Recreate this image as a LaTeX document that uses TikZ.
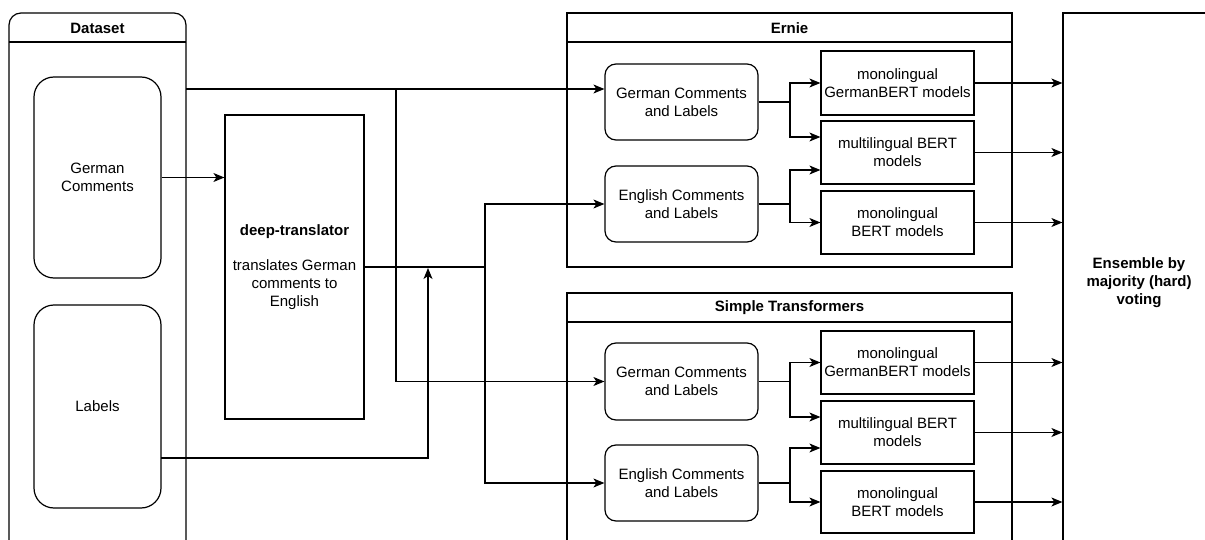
\documentclass[tikz,border=0pt]{standalone}
\usepackage{fontspec}
\setmainfont{Liberation Sans}
\usetikzlibrary{arrows.meta,calc}
\newcommand\fs{\fontsize{15}{18}\selectfont}
\tikzset{
  every node/.style={font=\fs, inner sep=0pt, align=center},
  ln/.style={line width=1.2pt, draw=black},
  bigrbox/.style={ln, rounded corners=20pt},
  rbox/.style={ln, rounded corners=11pt},
  sqbox/.style={ln},
  ttl/.style={font=\fs\bfseries},
  arr/.style={line width=1.2pt, -{Stealth[length=11pt,width=9pt,inset=3pt]}},
  con/.style={line width=1.2pt},
}
\begin{document}
\begin{tikzpicture}[x=1pt,y=-1pt]
\clip (0,0) rectangle (1205,540);
\fill[white] (0,0) rectangle (1205,540);

% Dataset container
\node[ln, rounded corners=12pt, minimum width=177pt, minimum height=539pt] (dataset) at (97.5,282.5) {};
\node[ttl] (dstitle) at (97.5,28) {Dataset};
\draw[con] (9,42) -- (186,42);
\node[bigrbox, minimum width=127pt, minimum height=201pt] (gc) at (97.5,177.5) {German\\Comments};
\node[bigrbox, minimum width=127pt, minimum height=203pt] (lb) at (97.5,406.5) {Labels};

% deep-translator
\node[sqbox, minimum width=139pt, minimum height=304pt] (dt) at (294.5,267) {\textbf{deep-translator}\\[17pt]translates German\\comments to\\English};

% Ernie container
\node[ln, minimum width=445pt, minimum height=254pt] (ernie) at (789.5,140) {};
\node[ttl] (ernietitle) at (789.5,28) {Ernie};
\draw[con] (567,42) -- (1012,42);
\node[rbox, minimum width=153pt, minimum height=76pt] (egc) at (681.5,102) {German Comments\\and Labels};
\node[rbox, minimum width=153pt, minimum height=76pt] (eec) at (681.5,204) {English Comments\\and Labels};
\node[sqbox, minimum width=153pt, minimum height=64pt] (eg1) at (897.5,83) {monolingual\\GermanBERT models};
\node[sqbox, minimum width=153pt, minimum height=63pt] (em) at (897.5,152.5) {multilingual BERT\\models};
\node[sqbox, minimum width=153pt, minimum height=63pt] (eb) at (897.5,222.5) {monolingual\\BERT models};

% Simple Transformers container
\node[ln, minimum width=445pt, minimum height=267pt] (simple) at (789.5,426.5) {};
\node[ttl] (simpletitle) at (789.5,308) {Simple Transformers};
\draw[con] (567,322) -- (1012,322);
\node[rbox, minimum width=153pt, minimum height=77pt] (sgc) at (681.5,381.5) {German Comments\\and Labels};
\node[rbox, minimum width=153pt, minimum height=76pt] (sec) at (681.5,483) {English Comments\\and Labels};
\node[sqbox, minimum width=153pt, minimum height=63pt] (sg1) at (897.5,362.5) {monolingual\\GermanBERT models};
\node[sqbox, minimum width=153pt, minimum height=63pt] (sm) at (897.5,432.5) {multilingual BERT\\models};
\node[sqbox, minimum width=153pt, minimum height=62pt] (sb) at (897.5,502) {monolingual\\BERT models};

% Ensemble
\node[ln, minimum width=152pt, minimum height=540pt] (ens) at (1139,283) {};
\node[font=\fs\bfseries] (enstext) at (1139,283) {Ensemble by\\majority (hard)\\voting};

% Connectors
\draw[arr] (gc.east) -- (gc.east -| dt.west);
\coordinate (dsout) at (186,89);
\coordinate (j1) at (396,89);
\draw[arr] (dsout) -- (dsout -| egc.west);
\draw[arr] (j1) |- (sgc.west);
\coordinate (j2) at (485,267);
\draw[con] (dt.east) -- (j2);
\draw[arr] (j2) |- (eec.west);
\draw[arr] (j2) |- (sec.west);
\coordinate (lbout) at (161,458);
\coordinate (j3) at (428,268);
\draw[arr] (lbout) -| (j3);

% Ernie internal
\coordinate (b1) at (790,102);
\draw[con] (egc.east) -- (b1);
\draw[arr] (b1) |- (eg1.west);
\draw[arr] (b1) |- (em.west |- 0,137);
\coordinate (b2) at (790,204);
\draw[con] (eec.east) -- (b2);
\draw[arr] (b2) |- (em.west |- 0,170);
\draw[arr] (b2) |- (eb.west);

% Simple internal
\coordinate (b3) at (790,381.5);
\draw[con] (sgc.east) -- (b3);
\draw[arr] (b3) |- (sg1.west);
\draw[arr] (b3) |- (sm.west |- 0,417);
\coordinate (b4) at (790,483);
\draw[con] (sec.east) -- (b4);
\draw[arr] (b4) |- (sm.west |- 0,448);
\draw[arr] (b4) |- (sb.west);

% Outputs to ensemble
\draw[arr] (eg1.east) -- (eg1.east -| ens.west);
\draw[arr] (em.east) -- (em.east -| ens.west);
\draw[arr] (eb.east) -- (eb.east -| ens.west);
\draw[arr] (sg1.east) -- (sg1.east -| ens.west);
\draw[arr] (sm.east) -- (sm.east -| ens.west);
\draw[arr] (sb.east) -- (sb.east -| ens.west);
\end{tikzpicture}
\end{document}
